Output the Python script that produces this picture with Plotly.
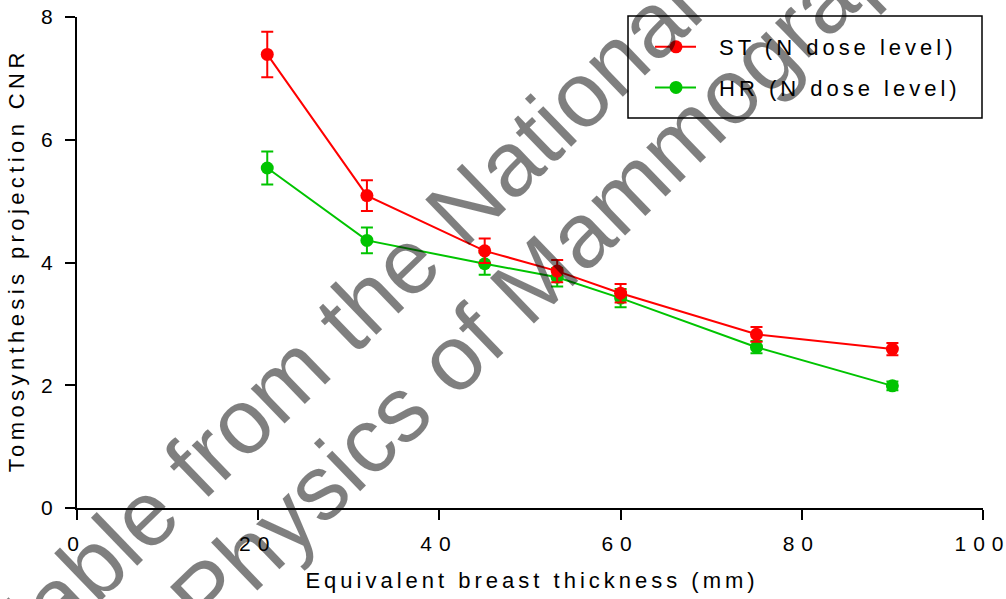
import plotly.graph_objects as go

# Data
thickness = [21, 32, 45, 53, 60, 75, 90]
st_cnr = [7.39, 5.09, 4.19, 3.86, 3.50, 2.83, 2.59]
st_err = [0.37, 0.25, 0.20, 0.18, 0.15, 0.12, 0.10]
hr_cnr = [5.54, 4.36, 3.98, 3.76, 3.42, 2.62, 1.99]
hr_err = [0.27, 0.21, 0.18, 0.15, 0.15, 0.10, 0.07]

x_ticks = [0, 20, 40, 60, 80, 100]
y_ticks = [0, 2, 4, 6, 8]

watermark_1 = "Available from the National"
watermark_2 = "Physics of Mammography"

RED = "#FF0000"
GREEN = "#00C400"
FONT = "Liberation Sans, Arial, sans-serif"

fig = go.Figure()

fig.add_trace(go.Scatter(
    x=thickness, y=hr_cnr, name="HR (N dose level)", mode="lines+markers",
    line=dict(color=GREEN, width=2), marker=dict(color=GREEN, size=13),
    error_y=dict(type="data", array=hr_err, color=GREEN, thickness=2, width=6),
    legendgroup="hr", legendrank=2,
))
fig.add_trace(go.Scatter(
    x=thickness, y=st_cnr, name="ST (N dose level)", mode="lines+markers",
    line=dict(color=RED, width=2), marker=dict(color=RED, size=13),
    error_y=dict(type="data", array=st_err, color=RED, thickness=2, width=6),
    legendgroup="st", legendrank=1,
))

axis_common = dict(
    showline=True, linecolor="black", linewidth=2,
    ticks="outside", ticklen=10, tickwidth=2, tickcolor="black",
    showgrid=False, zeroline=False, automargin=False,
    tickfont=dict(family=FONT, size=21, color="black"),
)

fig.update_layout(
    width=1006, height=599,
    margin=dict(l=77, r=23, t=17, b=91, autoexpand=False),
    plot_bgcolor="white", paper_bgcolor="white",
    font=dict(family=FONT, color="black"),
    xaxis=dict(range=[0, 100], tickvals=x_ticks, ticklabelstandoff=6,
               title=dict(text="Equivalent breast thickness (mm)",
                          font=dict(family=FONT, size=22, color="black"), standoff=18),
               **axis_common),
    yaxis=dict(range=[0, 8], tickvals=y_ticks, ticklabelstandoff=8,
               title=dict(text="Tomosynthesis projection CNR",
                          font=dict(family=FONT, size=22, color="black"), standoff=10),
               **axis_common),
    showlegend=True,
    legend=dict(
        x=(656 - 77) / 906, y=(508 - 26) / 491, xanchor="left", yanchor="top",
        bgcolor="rgba(0,0,0,0)", borderwidth=0,
        font=dict(family=FONT, size=22, color="black"),
        tracegroupgap=9, traceorder="grouped",
    ),
)

# legend frame
fig.add_shape(type="rect", xref="paper", yref="paper",
              x0=(628 - 77) / 906, x1=(982 - 77) / 906,
              y0=(508 - 118) / 491, y1=(508 - 16) / 491,
              line=dict(color="black", width=1.5), fillcolor="rgba(0,0,0,0)")

# watermark
for txt, cx, cy in [(watermark_1, 0.235, 0.272), (watermark_2, 0.541, 0.531)]:
    fig.add_annotation(text=txt, xref="paper", yref="paper", x=cx, y=cy,
                       xanchor="center", yanchor="middle", showarrow=False,
                       textangle=-44,
                       font=dict(family=FONT, size=92, color="rgba(0,0,0,0.5)"))

post = """
var gd = document.getElementById('{plot_id}');
function spread(sel, s, dx){
  gd.querySelectorAll(sel).forEach(function(e){
    var L = e.getComputedTextLength();
    var n = e.textContent.length;
    if (n > 1) {
      e.setAttribute('textLength', L + (n - 1) * s);
      e.setAttribute('lengthAdjust', 'spacing');
    }
    if (dx) { e.setAttribute('dx', dx); }
  });
}
gd.querySelectorAll('.legend [clip-path]').forEach(function(e){ e.removeAttribute('clip-path'); });
gd.querySelectorAll('.legendtext').forEach(function(e){ e.setAttribute('x', 63); });
gd.querySelectorAll('.legendlines path').forEach(function(e){ e.setAttribute('d', 'M-1,0h41'); });
spread('.xtitle', 4, 0);
spread('.ytitle', 4.4, 0);
spread('.legendtext', 4, 0);
spread('.xtick text', 7, -4);
"""

fig.write_html("out.html", post_script=post)
